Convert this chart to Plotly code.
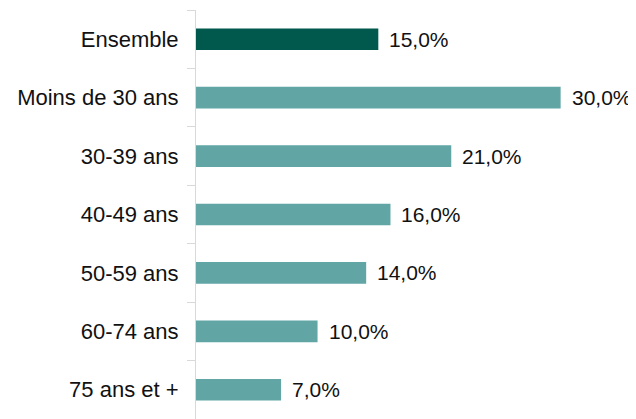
import plotly.graph_objects as go

categories = ["Ensemble", "Moins de 30 ans", "30-39 ans", "40-49 ans", "50-59 ans", "60-74 ans", "75 ans et +"]
values = [15.0, 30.0, 21.0, 16.0, 14.0, 10.0, 7.0]
colors = ["#00594C"] + ["#61A5A5"] * 6

labels = [f"{v:.1f}".replace(".", ",") + "%" for v in values]

fig = go.Figure()
fig.add_trace(go.Bar(
    x=values, y=categories, orientation="h",
    marker=dict(color=colors, line=dict(width=0)),
    hoverinfo="skip",
))

for v, c, t in zip(values, categories, labels):
    fig.add_annotation(x=v, y=c, text=t, showarrow=False, xanchor="left",
                       xshift=9, font=dict(size=21, color="#111111", family="Liberation Sans, Arial"))

# page body has a default 8px margin, so the figure is sized to the remaining area
fig.update_layout(
    width=628, height=411,
    margin=dict(l=188, r=0, t=2, b=0, autoexpand=False),
    paper_bgcolor="white", plot_bgcolor="white",
    bargap=0.63,
    showlegend=False,
    font=dict(family="Liberation Sans, Arial", size=22, color="#111111"),
)
fig.update_xaxes(range=[0, 36.2], visible=False, automargin=False)
fig.update_yaxes(
    categoryorder="array", categoryarray=categories, autorange="reversed",
    showline=True, linecolor="#d9d9d9", linewidth=1,
    ticks="outside", tickson="boundaries", ticklen=8, tickcolor="#d9d9d9",
    showgrid=False, zeroline=False, automargin=False,
    ticklabelstandoff=12,
)

fig.write_html("out.html")
